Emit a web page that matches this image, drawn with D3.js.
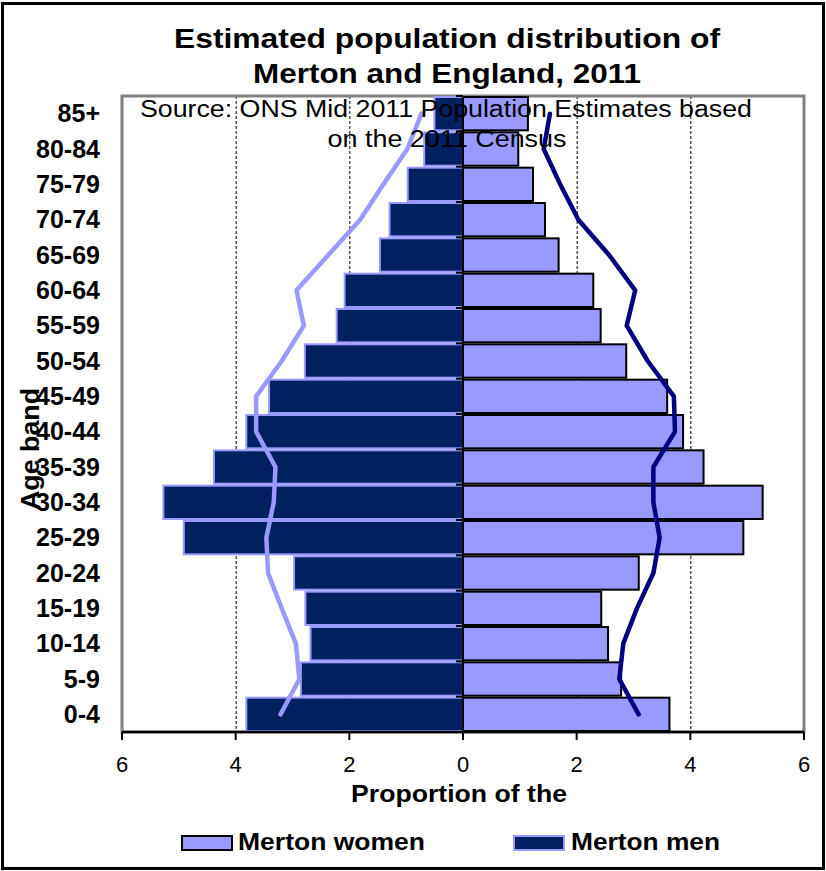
<!DOCTYPE html>
<html>
<head>
<meta charset="utf-8">
<script src="https://cdn.jsdelivr.net/npm/d3@7"></script>
<style>
  body { margin: 0; background: #fff; }
  svg { display: block; font-family: "Liberation Sans", Arial, sans-serif; }
</style>
</head>
<body>
<div id="chart"></div>
<script>
// age bands, bottom to top
var ageBands = ["0-4", "5-9", "10-14", "15-19", "20-24", "25-29", "30-34", "35-39", "40-44",
  "45-49", "50-54", "55-59", "60-64", "65-69", "70-74", "75-79", "80-84", "85+"];

// % of population
var mertonMen = [3.83, 2.87, 2.70, 2.79, 2.99, 4.93, 5.29, 4.40, 3.83,
  3.43, 2.80, 2.24, 2.10, 1.48, 1.31, 0.99, 0.70, 0.52];
var mertonWomen = [3.65, 2.80, 2.57, 2.45, 3.11, 4.95, 5.29, 4.25, 3.89,
  3.61, 2.89, 2.44, 2.31, 1.70, 1.46, 1.25, 0.99, 1.16];
var englandMen = [3.21, 2.88, 2.94, 3.19, 3.43, 3.46, 3.33, 3.30, 3.64,
  3.64, 3.19, 2.80, 2.93, 2.37, 1.81, 1.40, 0.98, 0.73];
var englandWomen = [3.09, 2.75, 2.82, 3.06, 3.35, 3.46, 3.35, 3.35, 3.73,
  3.71, 3.25, 2.88, 3.03, 2.57, 2.03, 1.71, 1.42, 1.53];

var xTicks = [-6, -4, -2, 0, 2, 4, 6];
var gridTicks = [-4, -2, 2, 4];

var width = 826, height = 871;
var darkFill = "#00205f", lightFill = "#9999ff";

var svg = d3.select("#chart").append("svg")
  .attr("width", width)
  .attr("height", height);

// outer border
svg.append("rect")
  .attr("x", 2.5).attr("y", 3.5)
  .attr("width", 821).attr("height", 865)
  .attr("fill", "#fff")
  .attr("stroke", "#000")
  .attr("stroke-width", 3);

var x = d3.scaleLinear().domain([-6, 6]).range([122, 804]);
var y = d3.scaleBand().domain(ageBands.slice().reverse()).range([96, 732]).padding(0);
var plotTop = 96, plotBottom = 732;

// dashed gridlines
svg.append("g").selectAll("line")
  .data(gridTicks)
  .enter().append("line")
  .attr("x1", function(d) { return x(d) + 0.5; })
  .attr("x2", function(d) { return x(d) + 0.5; })
  .attr("y1", plotTop).attr("y2", plotBottom)
  .attr("stroke", "#000")
  .attr("stroke-width", 1)
  .attr("stroke-dasharray", "3,2");

// plot frame
svg.append("rect")
  .attr("x", x(-6)).attr("y", plotTop)
  .attr("width", x(6) - x(-6)).attr("height", plotBottom - plotTop)
  .attr("fill", "none")
  .attr("stroke", "#808080")
  .attr("stroke-width", 3);

// men bars (left)
svg.append("g").selectAll("rect")
  .data(ageBands)
  .enter().append("rect")
  .attr("x", function(d, i) { return x(-mertonMen[i]) + 1; })
  .attr("y", function(d) { return y(d) + 1; })
  .attr("width", function(d, i) { return x(0) - x(-mertonMen[i]) - 1; })
  .attr("height", y.bandwidth() - 2)
  .attr("fill", darkFill)
  .attr("stroke", lightFill)
  .attr("stroke-width", 2);

// women bars (right)
svg.append("g").selectAll("rect")
  .data(ageBands)
  .enter().append("rect")
  .attr("x", x(0))
  .attr("y", function(d) { return y(d) + 1; })
  .attr("width", function(d, i) { return x(mertonWomen[i]) - x(0) - 1; })
  .attr("height", y.bandwidth() - 2)
  .attr("fill", lightFill)
  .attr("stroke", "#000")
  .attr("stroke-width", 2);

// centre axis with ticks at band edges
svg.append("line")
  .attr("x1", x(0)).attr("x2", x(0))
  .attr("y1", plotTop).attr("y2", plotBottom)
  .attr("stroke", "#000").attr("stroke-width", 1.5);

svg.append("g").selectAll("line")
  .data(ageBands)
  .enter().append("line")
  .attr("x1", x(0) - 7).attr("x2", x(0))
  .attr("y1", function(d) { return y(d); })
  .attr("y2", function(d) { return y(d); })
  .attr("stroke", "#000").attr("stroke-width", 2);

// England lines
var lineLeft = d3.line()
  .x(function(d) { return x(-d); })
  .y(function(d, i) { return y(ageBands[i]) + y.bandwidth() / 2; });
var lineRight = d3.line()
  .x(function(d) { return x(d); })
  .y(function(d, i) { return y(ageBands[i]) + y.bandwidth() / 2; });

svg.append("path")
  .datum(englandMen)
  .attr("d", lineLeft)
  .attr("fill", "none")
  .attr("stroke", lightFill)
  .attr("stroke-width", 4.5)
  .attr("stroke-linejoin", "round")
  .attr("stroke-linecap", "round");

svg.append("path")
  .datum(englandWomen)
  .attr("d", lineRight)
  .attr("fill", "none")
  .attr("stroke", "#000080")
  .attr("stroke-width", 4.5)
  .attr("stroke-linejoin", "round")
  .attr("stroke-linecap", "round");

// bottom axis
svg.append("line")
  .attr("x1", x(-6)).attr("x2", x(6))
  .attr("y1", plotBottom).attr("y2", plotBottom)
  .attr("stroke", "#000").attr("stroke-width", 2.5);

var xAxis = svg.append("g");
xAxis.selectAll("line")
  .data(xTicks)
  .enter().append("line")
  .attr("x1", function(d) { return x(d); })
  .attr("x2", function(d) { return x(d); })
  .attr("y1", plotBottom).attr("y2", plotBottom + 8)
  .attr("stroke", "#000").attr("stroke-width", 2);

xAxis.selectAll("text")
  .data(xTicks)
  .enter().append("text")
  .attr("x", function(d) { return x(d); })
  .attr("y", 772)
  .attr("text-anchor", "middle")
  .style("font-size", "22px")
  .text(function(d) { return Math.abs(d); });

// age labels
svg.append("g").selectAll("text")
  .data(ageBands)
  .enter().append("text")
  .attr("x", 100)
  .attr("y", function(d) { return y(d) + y.bandwidth() / 2 + 8.5; })
  .attr("text-anchor", "end")
  .style("font-size", "25px")
  .style("font-weight", "bold")
  .text(function(d) { return d; });

// titles
function addText(t, cx, by, size, bold, len) {
  svg.append("text")
    .attr("x", cx).attr("y", by)
    .attr("text-anchor", "middle")
    .attr("textLength", len)
    .attr("lengthAdjust", "spacingAndGlyphs")
    .style("font-size", size + "px")
    .style("font-weight", bold ? "bold" : "normal")
    .text(t);
}

addText("Estimated population distribution of", 447, 48, 28, true, 546);
addText("Merton and England, 2011", 447, 83, 28, true, 388);
addText("Source: ONS Mid 2011 Population Estimates based", 446, 117, 23, false, 612);
addText("on the 2011 Census", 447, 147, 23, false, 239);
addText("Proportion of the", 459, 802, 23, true, 216);

// y axis title
svg.append("text")
  .attr("transform", "translate(39,449) rotate(-90)")
  .attr("text-anchor", "middle")
  .attr("textLength", 122)
  .attr("lengthAdjust", "spacingAndGlyphs")
  .style("font-size", "26px")
  .style("font-weight", "bold")
  .text("Age band");

// legend
var legendItems = [
  { label: "Merton women", fill: lightFill, stroke: "#000", x: 181, tx: 238, len: 187 },
  { label: "Merton men", fill: darkFill, stroke: lightFill, x: 513, tx: 571, len: 149 }
];

var legend = svg.selectAll(".legend")
  .data(legendItems)
  .enter().append("g")
  .attr("class", "legend");

legend.append("rect")
  .attr("x", function(d) { return d.x + 1; })
  .attr("y", 836)
  .attr("width", 50)
  .attr("height", 14)
  .attr("fill", function(d) { return d.fill; })
  .attr("stroke", function(d) { return d.stroke; })
  .attr("stroke-width", 2);

legend.append("text")
  .attr("x", function(d) { return d.tx; })
  .attr("y", 850)
  .attr("textLength", function(d) { return d.len; })
  .attr("lengthAdjust", "spacingAndGlyphs")
  .style("font-size", "23px")
  .style("font-weight", "bold")
  .text(function(d) { return d.label; });
</script>
</body>
</html>
